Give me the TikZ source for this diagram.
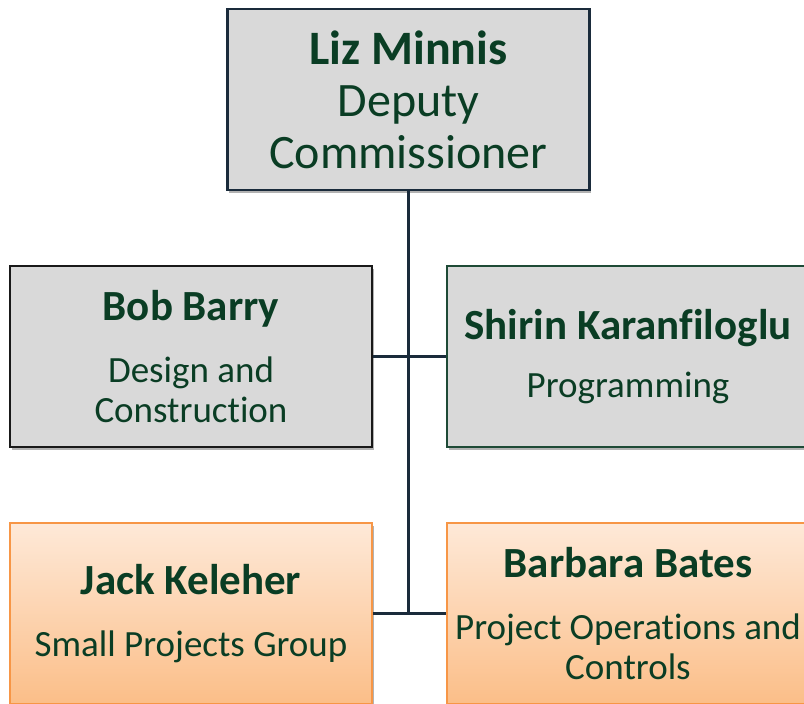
\documentclass[tikz,border=0pt]{standalone}
\usepackage{fontspec}
\setmainfont{Carlito}[Ligatures=NoCommon]
\usetikzlibrary{shadows}
\definecolor{txt}{HTML}{0A3D24}
\definecolor{navy}{HTML}{1A2B3B}
\definecolor{grn}{HTML}{1E4A36}
\definecolor{boxgray}{HTML}{D9D9D9}
\definecolor{orTop}{HTML}{FEE9D8}
\definecolor{orBot}{HTML}{FBBE88}
\definecolor{orLine}{HTML}{F79646}
\newcommand\pname[1]{{\fontsize{43}{46}\selectfont\bfseries #1}}
\tikzset{
  box/.style={rectangle, minimum width=362pt, minimum height=181pt, inner sep=0pt,
    align=center, text=txt, font=\fontsize{37}{40}\selectfont,
    drop shadow={shadow xshift=1.5pt, shadow yshift=-2.5pt, opacity=0.3, fill=black}},
  graybox/.style={box, fill=boxgray, line width=2.5pt},
  orangebox/.style={box, top color=orTop, bottom color=orBot, draw=orLine, line width=1.5pt},
  link/.style={draw=navy, line width=2.5pt}
}
\begin{document}
\begin{tikzpicture}[x=1pt,y=-1pt]
\useasboundingbox (0,0) rectangle (804,704);
\clip (0,0) rectangle (804,704);
\fill[white] (0,0) rectangle (804,704);
\node[graybox, draw=navy, font=\fontsize{48}{52}\selectfont] (liz) at (408.5,99.5)
  {\textbf{Liz Minnis}\\Deputy\\Commissioner};
\node[graybox, draw=black!90] (bob) at (191,356.5)
  {\pname{Bob Barry}\\[22pt]Design and\\Construction};
\node[graybox, draw=grn] (shirin) at (628,356.5)
  {\pname{Shirin Karanfiloglu}\\[18pt]Programming};
\node[orangebox] (jack) at (191,613.5)
  {\pname{Jack Keleher}\\[22pt]Small Projects Group};
\node[orangebox] (barbara) at (628,613.5)
  {\pname{Barbara Bates}\\[22pt]Project Operations and\\Controls};
\coordinate (spineend) at (liz.south |- jack.east);
\draw[link] (liz.south) -- (spineend);
\draw[link] (bob.east) -- (shirin.west);
\draw[link] (jack.east) -- (barbara.west);
\end{tikzpicture}
\end{document}
